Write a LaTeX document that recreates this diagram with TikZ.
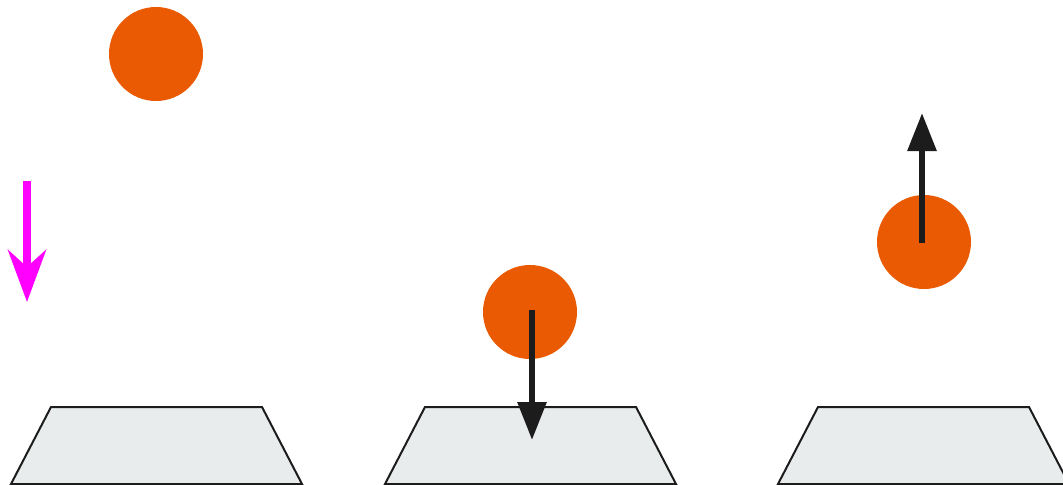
\documentclass[tikz,border=0pt]{standalone}
\usepackage{tikz}
\usetikzlibrary{arrows.meta}
\definecolor{ballorange}{HTML}{E95A02}
\definecolor{floorgray}{HTML}{E8ECEC}
\definecolor{arrowblack}{HTML}{1C1C1C}
\definecolor{gravitypink}{RGB}{255,0,255}

\begin{document}
\begin{tikzpicture}[
    x=0.75pt, y=-0.75pt,
    ball/.style={circle, fill=ballorange, minimum size=70.5pt, inner sep=0pt},
    floor/.style={draw=arrowblack, fill=floorgray, line width=1.5pt, line join=miter},
    gravity/.style={-{Stealth[length=39pt, width=28.5pt, inset=12.75pt]}, line width=6pt, gravitypink},
    velocity/.style={-{Triangle[length=28.5pt, width=21pt]}, line width=4.5pt, arrowblack},
]
\useasboundingbox (0,0) rectangle (1063,485);
\clip (0,0) rectangle (1063,485);

% floors
\foreach \dx in {0,374,767}
  \draw[floor] (11+\dx,484) -- (51+\dx,407) -- (262+\dx,407) -- (302+\dx,484) -- cycle;

% balls
\node[ball] (ballA) at (156,54) {};
\node[ball] (ballB) at (530,312) {};
\node[ball] (ballC) at (924,242) {};

% arrows
\coordinate (gtop) at (27,181);
\coordinate (gbot) at (27,302);
\coordinate (vdown) at (532,440);
\coordinate (vup) at (922,113);

\draw[gravity] (gtop) -- (gbot);
\draw[velocity] (ballB.center) ++(2,-2) -- (vdown);
\draw[velocity] (ballC.center) ++(-2,1) -- (vup);

\end{tikzpicture}
\end{document}
